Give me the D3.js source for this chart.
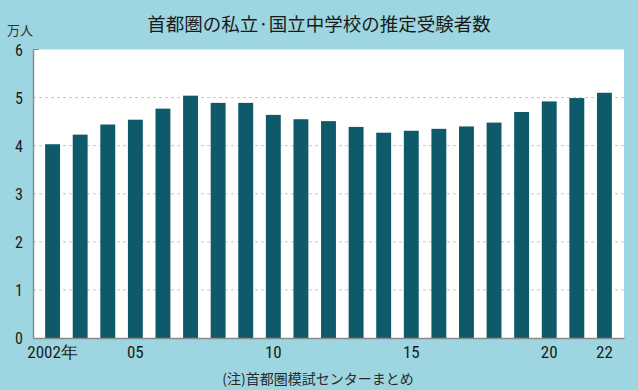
<!DOCTYPE html>
<html>
<head>
<meta charset="utf-8">
<script src="https://cdn.jsdelivr.net/npm/d3@7"></script>
<style>
  html, body { margin: 0; padding: 0; background: #9dd6e0; }
  svg { display: block; }
  .num { font-family: "Liberation Sans Narrow", "Roboto Condensed", "Liberation Sans", sans-serif; }
  .jp { font-family: "Noto Sans CJK JP", sans-serif; }
</style>
</head>
<body>
<svg id="chart" width="638" height="390"></svg>
<script>
const years = ["2002","2003","2004","2005","2006","2007","2008","2009","2010","2011","2012",
               "2013","2014","2015","2016","2017","2018","2019","2020","2021","2022"];
const examinees = [4.03, 4.23, 4.44, 4.54, 4.77, 5.04, 4.89, 4.89, 4.64, 4.55, 4.51,
                   4.39, 4.27, 4.31, 4.35, 4.40, 4.48, 4.70, 4.92, 4.99, 5.10];
const xTickLabels = {"2002": "2002年", "2005": "05", "2010": "10", "2015": "15", "2020": "20", "2022": "22"};
const yTicks = [0, 1, 2, 3, 4, 5, 6];
const title = "首都圏の私立·国立中学校の推定受験者数";
const unitLabel = "万人";
const note = "(注)首都圏模試センターまとめ";

const svg = d3.select("#chart");
const W = 638, H = 390;
const plot = { left: 33, right: 624, top: 49.5, bottom: 338 };

svg.append("rect").attr("width", W).attr("height", H).attr("fill", "#9dd6e0");

const x = d3.scaleBand().domain(years).range([plot.left, plot.right])
  .paddingInner(0.46).paddingOuter(0.44);
const y = d3.scaleLinear().domain([0, 6]).range([plot.bottom, plot.top]);

// plot background
svg.append("rect")
  .attr("x", plot.left).attr("y", plot.top)
  .attr("width", plot.right - plot.left).attr("height", plot.bottom - plot.top)
  .attr("fill", "#ffffff");

// gridlines
svg.append("g").selectAll("line").data(yTicks.filter(d => d > 0 && d < 6)).join("line")
  .attr("x1", plot.left).attr("x2", plot.right)
  .attr("y1", d => y(d)).attr("y2", d => y(d))
  .attr("stroke", "#c8c8c8").attr("stroke-width", 1).attr("stroke-dasharray", "3,3");

// bars
svg.append("g").selectAll("rect").data(years).join("rect")
  .attr("x", d => x(d)).attr("width", x.bandwidth())
  .attr("y", (d, i) => y(examinees[i]))
  .attr("height", (d, i) => y(0) - y(examinees[i]))
  .attr("fill", "#0e5a6b");

// y axis
const yAxis = svg.append("g").attr("transform", `translate(${plot.left},0)`)
  .call(d3.axisLeft(y).tickValues(yTicks).tickSize(0).tickPadding(11).tickFormat(d3.format("d")));
yAxis.select(".domain").attr("stroke", "#8a8a8a").attr("stroke-width", 1.5);
yAxis.selectAll("text").attr("class", "num").attr("font-size", 16).attr("fill", "#1a1a1a")
  .attr("text-anchor", "middle").attr("x", -14).attr("dy", "0.36em");
// top tick
svg.append("line").attr("x1", plot.left).attr("x2", plot.left + 6)
  .attr("y1", y(6)).attr("y2", y(6)).attr("stroke", "#8a8a8a").attr("stroke-width", 1);

// x axis
const xAxis = svg.append("g").attr("transform", `translate(0,${plot.bottom})`)
  .call(d3.axisBottom(x).tickValues(Object.keys(xTickLabels)).tickSize(0).tickPadding(8)
    .tickFormat(d => xTickLabels[d]));
xAxis.select(".domain").attr("stroke", "#8a8a8a").attr("stroke-width", 1.5);
xAxis.selectAll("text").attr("class", "num").attr("font-size", 17).attr("fill", "#1a1a1a");

// title
svg.append("text").attr("class", "jp").attr("x", 319).attr("y", 31)
  .attr("text-anchor", "middle").attr("font-size", 18.5).attr("fill", "#1a1a1a").text(title);
svg.append("text").attr("class", "jp").attr("x", 20).attr("y", 35)
  .attr("text-anchor", "middle").attr("font-size", 13).attr("fill", "#333").text(unitLabel);

// note
svg.append("text").attr("class", "jp").attr("x", 318).attr("y", 384)
  .attr("text-anchor", "middle").attr("font-size", 14).attr("fill", "#2a2a2a").text(note);
</script>
</body>
</html>
